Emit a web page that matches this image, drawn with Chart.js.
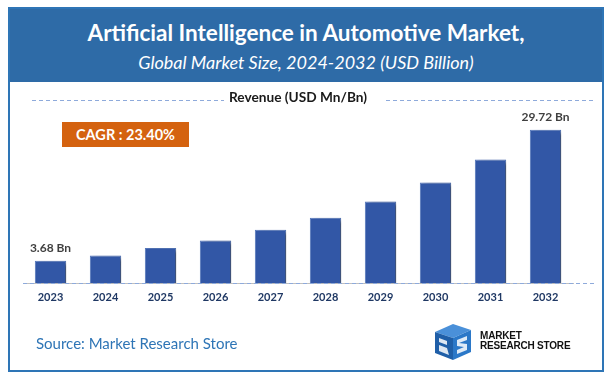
<!DOCTYPE html>
<html>
<head>
<meta charset="utf-8">
<script src="https://cdn.jsdelivr.net/npm/chart.js@4.4.1/dist/chart.umd.min.js"></script>
<style>
  html, body { margin: 0; padding: 0; background: #ffffff; }
  body { width: 609px; height: 379px; position: relative; overflow: hidden; font-family: Lato, "Open Sans", sans-serif; }
  #frame { position: absolute; left: 8px; top: 7px; width: 592px; height: 361px; border: 2px solid #2E75B6; }
  #header { position: absolute; left: 10px; top: 9px; width: 592px; height: 73px; background: #2E6BA7; color: #fff; text-align: center; }
  #title { position: absolute; left: 0; right: 0; top: 11px; font-weight: bold; font-size: 22.5px; line-height: 26px; }
  #subtitle { position: absolute; left: 0; right: 0; top: 42px; font-style: italic; font-size: 18px; line-height: 22px; }
  #chartBox { position: absolute; left: 0; top: 0; width: 609px; height: 379px; }
  #cagr { position: absolute; left: 62px; top: 122px; width: 127px; height: 25px; background: #D4620F; color: #fff; font-weight: bold; font-size: 14.5px; line-height: 25px; text-align: center; }
  #source { position: absolute; left: 36px; top: 334px; color: #2E75B6; font-size: 15px; line-height: 18px; }
  #logo { position: absolute; left: 431px; top: 322px; width: 145px; height: 40px; }
  #logoText { position: absolute; left: 49px; top: 9px; font-family: "Liberation Sans", Arial, sans-serif; font-weight: bold; font-size: 10px; line-height: 9.5px; color: #111; letter-spacing: -0.2px; }
</style>
</head>
<body>
<div id="frame"></div>
<div id="header">
  <div id="title">Artificial Intelligence in Automotive Market,</div>
  <div id="subtitle">Global Market Size, 2024-2032 (USD Billion)</div>
</div>
<div id="chartBox"><canvas id="c" width="609" height="379"></canvas></div>
<div id="cagr">CAGR : 23.40%</div>
<div id="source">Source: Market Research Store</div>
<div id="logo">
  <svg width="46" height="40" viewBox="0 0 46 40">
    <polygon points="4,10 22,2 40,8 22,16" fill="#4A90D9"/>
    <polygon points="4,10 22,16 22,38 4,31" fill="#1F5FA8"/>
    <polygon points="22,16 40,8 40,30 22,38" fill="#2B78C8"/>
    <path d="M8 16 L16 19 L16 23 L8 20 Z M8 23 L16 26 L18 33 L8 29 Z" fill="#ffffff" opacity="0.85"/>
    <path d="M26 18 L36 14 L36 18 L28 21 L36 22 L36 28 L26 32 L26 28 L33 25 L26 24 Z" fill="#ffffff" opacity="0.85"/>
  </svg>
  <div id="logoText">MARKET<br>RESEARCH STORE</div>
</div>
<script>
const years = ["2023", "2024", "2025", "2026", "2027", "2028", "2029", "2030", "2031", "2032"];
const revenue = [3.68, 4.69, 6.18, 7.71, 9.81, 12.23, 15.45, 19.24, 23.78, 29.72];
const valueLabels = ["3.68 Bn", "", "", "", "", "", "", "", "", "29.72 Bn"];
const legendText = "Revenue (USD Mn/Bn)";
const axisMin = -0.8;
const axisMax = 32;

const barShadow = {
  id: 'barShadow',
  beforeDatasetsDraw(chart) {
    const ctx = chart.ctx;
    ctx.save();
    ctx.shadowColor = 'rgba(0,0,0,0.45)';
    ctx.shadowOffsetX = 4;
    ctx.shadowOffsetY = 2;
    ctx.shadowBlur = 4;
  },
  afterDatasetsDraw(chart) {
    chart.ctx.restore();
  }
};

const decorations = {
  id: 'decorations',
  afterDraw(chart) {
    const ctx = chart.ctx;
    const area = chart.chartArea;
    ctx.save();
    ctx.strokeStyle = '#8EAADB';
    ctx.lineWidth = 1;
    ctx.setLineDash([4, 3]);
    ctx.beginPath();
    ctx.moveTo(32, 100.5); ctx.lineTo(224, 100.5);
    ctx.moveTo(386, 100.5); ctx.lineTo(594, 100.5);
    const by = Math.round(area.bottom) + 0.5;
    ctx.moveTo(area.left, by); ctx.lineTo(594, by);
    ctx.stroke();
    ctx.setLineDash([]);
    const meta = chart.getDatasetMeta(0);
    ctx.fillStyle = '#404040';
    ctx.font = 'bold 12px Lato, sans-serif';
    ctx.textAlign = 'center';
    ctx.textBaseline = 'middle';
    meta.data.forEach((bar, i) => {
      if (valueLabels[i]) ctx.fillText(valueLabels[i], bar.x, bar.y - 13);
    });
    ctx.restore();
  }
};

new Chart(document.getElementById('c'), {
  type: 'bar',
  data: {
    labels: years,
    datasets: [{
      label: legendText,
      data: revenue,
      base: axisMin,
      backgroundColor: '#3257A6',
      borderColor: '#5476BA',
      borderWidth: 1,
      categoryPercentage: 1,
      barPercentage: 0.57
    }]
  },
  options: {
    responsive: false,
    animation: false,
    layout: { padding: { left: 23, right: 36, top: 80, bottom: 66.6 } },
    plugins: {
      legend: { display: false },
      tooltip: { enabled: false },
      title: {
        display: true,
        text: legendText,
        color: '#1a1a1a',
        font: { family: 'Lato', size: 13.7, weight: 'bold' },
        padding: { top: 9.2, bottom: 12.6 }
      }
    },
    scales: {
      x: {
        grid: { display: false, drawTicks: false },
        border: { display: true, color: '#BFBFBF', width: 1 },
        ticks: { color: '#1F3864', font: { family: 'Lato', size: 11, weight: 'bold' }, padding: 8 }
      },
      y: {
        display: false,
        min: axisMin,
        max: axisMax
      }
    }
  },
  plugins: [barShadow, decorations]
});
</script>
</body>
</html>
